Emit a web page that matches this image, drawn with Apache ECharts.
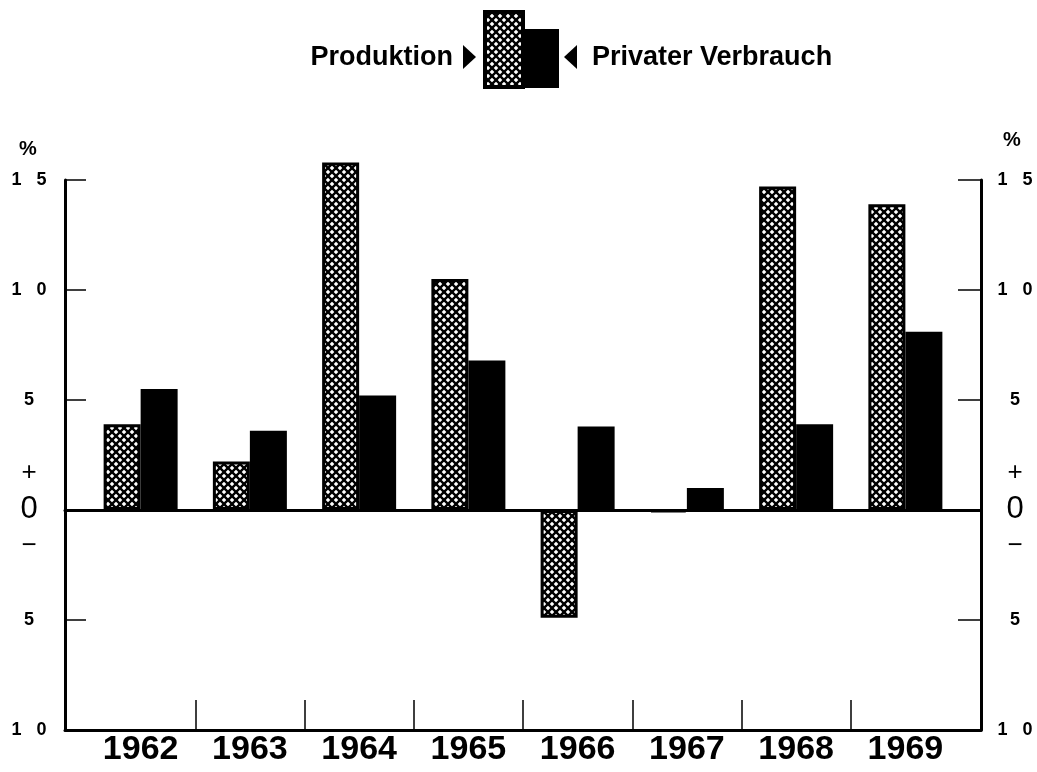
<!DOCTYPE html>
<html>
<head>
<meta charset="utf-8">
<title>Produktion und Privater Verbrauch</title>
<script src="https://cdn.jsdelivr.net/npm/echarts@6/dist/echarts.min.js"></script>
<style>
html, body { margin: 0; padding: 0; background: #fff; }
#chart { width: 1037px; height: 772px; }
</style>
</head>
<body>
<div id="chart"></div>
<script>
// Werte in %
const years = ['1962', '1963', '1964', '1965', '1966', '1967', '1968', '1969'];
const produktion = [3.9, 2.2, 15.8, 10.5, -4.9, -0.1, 14.7, 13.9];
const privaterVerbrauch = [5.5, 3.6, 5.2, 6.8, 3.8, 1.0, 3.9, 8.1];
const yMin = -10;
const yMax = 15;
const yStep = 5;
// Trennstriche zwischen den Jahren
const yearSeparators = [1, 2, 3, 4, 5, 6, 7];

const FONT = "'Liberation Sans', Arial, sans-serif";

/* Kreuzschraffur wie im Original */
const makeHatch = () => {
   const c = document.createElement('canvas');
   c.width = 8;
   c.height = 8;
   const ctx = c.getContext('2d');
   ctx.fillStyle = '#fff';
   ctx.fillRect(0, 0, 8, 8);
   ctx.strokeStyle = '#000';
   ctx.lineWidth = 2.4;
   [-8, 0, 8].forEach((o) => {
      ctx.beginPath();
      ctx.moveTo(o - 2, -2);
      ctx.lineTo(o + 10, 10);
      ctx.stroke();
      ctx.beginPath();
      ctx.moveTo(o + 10, -2);
      ctx.lineTo(o - 2, 10);
      ctx.stroke();
   });
   return c;
};
const hatch = { image: makeHatch(), repeat: 'repeat' };

const yLabel = (v) => {
   if (v === 0) return '{p|+}\n{z|0}\n{m|\u2212}';
   return String(Math.abs(v)).split('').join('   ');
};
const yLabelStyle = (margin) => ({
   margin,
   align: 'center',
   color: '#000',
   fontFamily: FONT,
   fontWeight: 'bold',
   fontSize: 18,
   formatter: yLabel,
   rich: {
      p: { fontSize: 26, lineHeight: 36, fontFamily: FONT, fontWeight: 'normal', color: '#000' },
      z: { fontSize: 31, lineHeight: 36, fontFamily: FONT, fontWeight: 'normal', color: '#000' },
      m: { fontSize: 26, lineHeight: 38, fontFamily: FONT, fontWeight: 'normal', color: '#000' }
   }
});

const chart = echarts.init(document.getElementById('chart'));
const option = {
   animation: false,
   backgroundColor: '#fff',
   grid: [
      { left: 65, right: 56, top: 180, bottom: 42 },
      // gleicher Maßstab, aber Platz nach oben für 1964
      { left: 86, right: 77, top: 70, bottom: 42 }
   ],
   xAxis: [
      {
         // Grundlinie unten
         type: 'value', gridIndex: 0, min: 0, max: 1, position: 'bottom',
         axisLine: { onZero: false, lineStyle: { color: '#000', width: 3 } },
         axisTick: { show: false }, axisLabel: { show: false }, splitLine: { show: false }
      },
      {
         // Nulllinie
         type: 'value', gridIndex: 0, min: 0, max: 1, position: 'top',
         axisLine: { onZero: true, onZeroAxisIndex: 0, lineStyle: { color: '#000', width: 3 } },
         axisTick: { show: false }, axisLabel: { show: false }, splitLine: { show: false }
      },
      {
         type: 'category', gridIndex: 1, data: years, position: 'bottom',
         axisLine: { show: false }, axisTick: { show: false }, splitLine: { show: false },
         axisLabel: {
            interval: 0, margin: 3, color: '#000', fontFamily: FONT, fontWeight: 'bold', fontSize: 34
         }
      },
      {
         type: 'value', gridIndex: 1, min: 0, max: years.length, position: 'bottom',
         axisLine: { show: false, onZero: false },
         axisTick: {
            show: true, inside: true, length: 30, customValues: yearSeparators,
            lineStyle: { color: '#000', width: 1.5 }
         },
         axisLabel: { show: false }, splitLine: { show: false }
      }
   ],
   yAxis: [
      {
         type: 'value', gridIndex: 0, min: yMin, max: yMax, interval: yStep, position: 'left',
         axisLine: { show: true, onZero: false, lineStyle: { color: '#000', width: 3 } },
         axisTick: { show: true, inside: true, length: 21, lineStyle: { color: '#000', width: 1.5 } },
         axisLabel: yLabelStyle(36),
         splitLine: { show: false }
      },
      {
         type: 'value', gridIndex: 0, min: yMin, max: yMax, interval: yStep, position: 'right',
         axisLine: { show: true, onZero: false, lineStyle: { color: '#000', width: 3 } },
         axisTick: { show: true, inside: true, length: 23, lineStyle: { color: '#000', width: 1.5 } },
         axisLabel: yLabelStyle(34),
         splitLine: { show: false }
      },
      {
         type: 'value', gridIndex: 1, min: yMin, max: yMax + yStep, interval: yStep,
         show: false, axisLine: { onZero: false }, splitLine: { show: false }
      }
   ],
   series: [
      {
         name: 'Produktion', type: 'bar', xAxisIndex: 2, yAxisIndex: 2,
         data: produktion, barWidth: 37, barGap: '0%',
         itemStyle: { color: hatch, borderColor: '#000', borderWidth: 3 }
      },
      {
         name: 'Privater Verbrauch', type: 'bar', xAxisIndex: 2, yAxisIndex: 2,
         data: privaterVerbrauch, barWidth: 37, barGap: '0%',
         itemStyle: { color: '#000' }
      }
   ],
   graphic: [
      { type: 'text', left: 19, top: 139, style: { text: '%', fontFamily: FONT, fontWeight: 'bold', fontSize: 20, fill: '#000' } },
      { type: 'text', left: 1003, top: 130, style: { text: '%', fontFamily: FONT, fontWeight: 'bold', fontSize: 20, fill: '#000' } },
      // Legende
      {
         type: 'text', x: 453, y: 58,
         style: { text: 'Produktion', fontFamily: FONT, fontWeight: 'bold', fontSize: 27, fill: '#000', align: 'right', verticalAlign: 'middle' }
      },
      { type: 'polygon', shape: { points: [[463, 45], [463, 69], [476, 57]] }, style: { fill: '#000' } },
      { type: 'rect', shape: { x: 523, y: 29, width: 36, height: 59 }, style: { fill: '#000' } },
      {
         type: 'rect', shape: { x: 485, y: 12, width: 38, height: 75 },
         style: { fill: hatch, stroke: '#000', lineWidth: 4 }
      },
      { type: 'polygon', shape: { points: [[577, 45], [577, 69], [564, 57]] }, style: { fill: '#000' } },
      {
         type: 'text', x: 592, y: 58,
         style: { text: 'Privater Verbrauch', fontFamily: FONT, fontWeight: 'bold', fontSize: 27, fill: '#000', align: 'left', verticalAlign: 'middle' }
      }
   ]
};
chart.setOption(option);
window.addEventListener('resize', () => {
   chart.resize();
});
</script>
</body>
</html>
